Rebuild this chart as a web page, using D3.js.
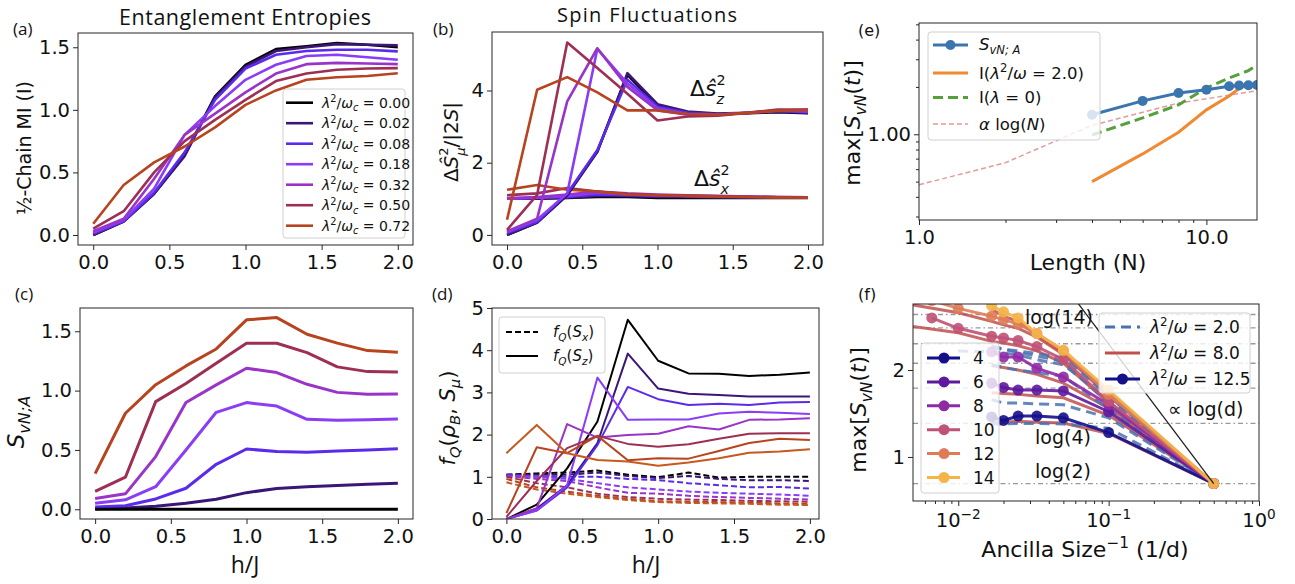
<!DOCTYPE html>
<html>
<head>
<meta charset="utf-8">
<script src="https://cdn.jsdelivr.net/npm/d3@7"></script>
<style>
body { margin: 0; background: #fff; }
svg { display: block; }
</style>
</head>
<body>
<svg id="fig"></svg>
<script>
// ---- data ----
var hJ = [0.0, 0.2, 0.4, 0.6, 0.8, 1.0, 1.2, 1.4, 1.6, 1.8, 2.0];
var lamLabels = ["0.00", "0.02", "0.08", "0.18", "0.32", "0.50", "0.72"];
var lamColors = ["#000000", "#3b1677", "#5b2bea", "#8a3cf6", "#9a34c9", "#9d2f55", "#b8431f", "#c9581f"];

// (a) half-chain mutual information
var miHalf = [
    [0.00, 0.107, 0.33, 0.64, 1.107, 1.36, 1.485, 1.507, 1.533, 1.52, 1.50],
    [0.00, 0.11, 0.33, 0.63, 1.10, 1.345, 1.47, 1.50, 1.525, 1.52, 1.515],
    [0.01, 0.11, 0.34, 0.66, 1.08, 1.33, 1.44, 1.47, 1.48, 1.48, 1.467],
    [0.02, 0.12, 0.37, 0.80, 1.03, 1.24, 1.36, 1.43, 1.44, 1.42, 1.40],
    [0.03, 0.13, 0.45, 0.80, 0.97, 1.14, 1.29, 1.365, 1.375, 1.37, 1.365],
    [0.05, 0.19, 0.50, 0.75, 0.92, 1.08, 1.23, 1.29, 1.32, 1.33, 1.333],
    [0.09, 0.40, 0.58, 0.707, 0.86, 1.04, 1.155, 1.24, 1.26, 1.27, 1.293]
];

// (b) spin fluctuations
var fluctZ = [
    [0.00, 0.34, 1.11, 2.31, 4.43, 3.58, 3.39, 3.35, 3.37, 3.40, 3.37],
    [0.00, 0.34, 1.10, 2.30, 4.48, 3.62, 3.42, 3.36, 3.38, 3.42, 3.38],
    [0.05, 0.36, 1.15, 2.35, 4.30, 3.55, 3.38, 3.34, 3.38, 3.44, 3.40],
    [0.08, 0.42, 1.15, 5.15, 4.20, 3.50, 3.35, 3.33, 3.38, 3.44, 3.42],
    [0.10, 0.45, 3.70, 5.17, 4.10, 3.45, 3.33, 3.32, 3.39, 3.45, 3.43],
    [0.14, 1.11, 5.33, 4.62, 3.91, 3.17, 3.28, 3.30, 3.38, 3.47, 3.47],
    [0.42, 4.02, 4.37, 3.95, 3.45, 3.45, 3.35, 3.33, 3.38, 3.44, 3.47]
];
var fluctX = [
    [1.00, 1.00, 1.02, 1.05, 1.05, 1.02, 1.02, 1.02, 1.02, 1.02, 1.02],
    [1.00, 1.01, 1.03, 1.08, 1.08, 1.05, 1.05, 1.04, 1.04, 1.03, 1.03],
    [1.00, 1.02, 1.05, 1.12, 1.10, 1.08, 1.07, 1.06, 1.05, 1.04, 1.03],
    [1.00, 1.03, 1.08, 1.17, 1.12, 1.10, 1.08, 1.07, 1.06, 1.05, 1.04],
    [1.02, 1.05, 1.12, 1.20, 1.15, 1.12, 1.10, 1.08, 1.06, 1.05, 1.04],
    [1.10, 1.15, 1.30, 1.20, 1.13, 1.10, 1.08, 1.07, 1.05, 1.04, 1.03],
    [1.25, 1.38, 1.25, 1.20, 1.12, 1.10, 1.08, 1.06, 1.05, 1.04, 1.03]
];

// (c) boson entanglement entropy
var sBoson = [
    [0, 0, 0, 0, 0, 0, 0, 0, 0, 0, 0],
    [0.005, 0.01, 0.025, 0.05, 0.085, 0.14, 0.175, 0.19, 0.20, 0.21, 0.22],
    [0.02, 0.03, 0.087, 0.177, 0.379, 0.508, 0.486, 0.48, 0.49, 0.50, 0.511],
    [0.05, 0.08, 0.19, 0.50, 0.817, 0.899, 0.87, 0.758, 0.75, 0.755, 0.76],
    [0.09, 0.13, 0.444, 0.90, 1.048, 1.188, 1.152, 1.053, 0.985, 0.97, 0.972],
    [0.15, 0.27, 0.907, 1.06, 1.23, 1.399, 1.399, 1.32, 1.20, 1.16, 1.157],
    [0.30, 0.809, 1.05, 1.208, 1.351, 1.596, 1.615, 1.475, 1.40, 1.337, 1.323]
];

// (d) quantum Fisher information
var fqZ = [
    [0.00, 0.34, 1.20, 2.31, 4.72, 3.75, 3.45, 3.44, 3.39, 3.42, 3.47],
    [0.00, 0.25, 0.80, 1.80, 3.92, 3.09, 2.97, 2.94, 2.90, 2.90, 2.90],
    [0.00, 0.20, 0.75, 1.75, 3.13, 2.84, 2.70, 2.73, 2.70, 2.76, 2.77],
    [0.00, 0.20, 0.80, 3.35, 2.35, 2.36, 2.36, 2.50, 2.54, 2.52, 2.49],
    [0.00, 0.25, 2.25, 1.93, 1.99, 2.02, 2.20, 2.12, 2.35, 2.36, 2.39],
    [0.05, 0.90, 1.68, 1.97, 1.78, 1.71, 1.77, 1.90, 2.02, 2.03, 2.03],
    [0.14, 1.70, 1.56, 1.97, 1.39, 1.44, 1.43, 1.61, 1.80, 1.90, 1.87],
    [1.56, 2.23, 1.56, 1.40, 1.36, 1.26, 1.34, 1.44, 1.57, 1.60, 1.65]
];
var fqX = [
    [1.05, 1.08, 1.10, 1.15, 1.05, 0.99, 1.10, 0.98, 1.00, 1.00, 1.00],
    [1.05, 1.05, 1.05, 1.10, 1.02, 0.97, 1.02, 0.95, 0.92, 0.92, 0.90],
    [1.05, 1.00, 1.00, 1.00, 0.95, 0.92, 0.85, 0.80, 0.75, 0.76, 0.72],
    [1.02, 1.00, 0.95, 0.85, 0.75, 0.70, 0.65, 0.62, 0.60, 0.58, 0.55],
    [1.02, 0.95, 0.90, 0.75, 0.62, 0.60, 0.55, 0.52, 0.50, 0.48, 0.46],
    [1.00, 0.85, 0.75, 0.60, 0.52, 0.48, 0.46, 0.45, 0.43, 0.42, 0.41],
    [0.95, 0.75, 0.65, 0.55, 0.48, 0.42, 0.41, 0.40, 0.39, 0.37, 0.36],
    [0.87, 0.70, 0.60, 0.52, 0.45, 0.40, 0.38, 0.37, 0.36, 0.34, 0.33]
];

// (e) scaling with chain length
var lenN = [4, 6, 8, 10, 12, 13, 14, 15];
var maxSvn = [1.33, 1.63, 1.83, 1.92, 2.02, 2.04, 2.05, 2.06];
var miLam2 = [0.50, 0.75, 1.03, 1.43, 1.75, 1.95, 2.08, 2.08];
var lenN0 = [4, 6, 8, 10, 12, 14, 15];
var miLam0 = [0.99, 1.27, 1.54, 1.97, 2.28, 2.54, 2.76];
var fitN = [1, 2, 4, 8, 10, 15];
var fitLog = [0.477, 0.66, 1.14, 1.58, 1.68, 1.89];

// (f) ancilla size scaling, one curve per chain length
var ancN = [4, 6, 8, 10, 12, 14];
var ancColors = ["#14108a", "#5d1a9e", "#8f2aa6", "#c05276", "#df7c58", "#f4b448"];
var dShort = [60, 50, 40, 30, 20, 10, 2];
var dLong = [150, 100, 60, 50, 40, 30, 20, 10, 2];
var dWide = [200, 100, 60, 50, 40, 30, 20, 10, 2];
var dMid = [100, 60, 50, 40, 30, 20, 10, 2];
var anc125 = [
    {d: dShort, v: [1.46, 1.42, 1.47, 1.47, 1.45, 1.28, 0.693]},
    {d: dShort, v: [1.85, 1.80, 1.77, 1.77, 1.76, 1.52, 0.693]},
    {d: dShort, v: [2.21, 2.15, 2.15, 2.02, 1.92, 1.60, 0.693]},
    {d: dLong, v: [2.60, 2.48, 2.39, 2.37, 2.34, 2.27, 2.12, 1.64, 0.693]},
    {d: dLong, v: [2.80, 2.71, 2.62, 2.58, 2.53, 2.42, 2.22, 1.72, 0.693]},
    {d: dShort, v: [2.74, 2.67, 2.60, 2.42, 2.23, 1.77, 0.693]}
];
var anc80 = [
    {d: dShort, v: [1.40, 1.40, 1.41, 1.40, 1.39, 1.27, 0.693]},
    {d: dShort, v: [1.74, 1.73, 1.72, 1.70, 1.68, 1.48, 0.693]},
    {d: dShort, v: [2.05, 2.03, 2.00, 1.95, 1.85, 1.56, 0.693]},
    {d: dWide, v: [2.50, 2.43, 2.33, 2.31, 2.28, 2.22, 2.08, 1.62, 0.693]},
    {d: dWide, v: [2.75, 2.66, 2.56, 2.52, 2.48, 2.38, 2.18, 1.70, 0.693]},
    {d: dShort, v: [2.70, 2.62, 2.56, 2.40, 2.20, 1.75, 0.693]}
];
var anc20 = [
    {d: dShort, v: [1.38, 1.38, 1.385, 1.385, 1.38, 1.33, 0.693]},
    {d: dShort, v: [1.66, 1.62, 1.62, 1.61, 1.60, 1.45, 0.693]},
    {d: dShort, v: [2.06, 2.03, 2.00, 1.97, 1.93, 1.55, 0.693]},
    {d: dShort, v: [2.28, 2.24, 2.20, 2.16, 2.10, 1.62, 0.693]},
    {d: dMid, v: [2.22, 2.21, 2.20, 2.17, 2.12, 2.06, 1.66, 0.693]},
    {d: dShort, v: [2.26, 2.24, 2.22, 2.19, 2.14, 1.70, 0.693]}
];
var logRefs = [0.693, 1.386, 1.792, 2.079, 2.303, 2.485, 2.639];
var logDLine = [[0.5, 0.693], [0.06, 2.81]];

// ---- helpers ----
var svg = d3.select("#fig").attr("width", 1295).attr("height", 584);
var MONO = "DejaVu Sans";
var CAL = "Open Sans";

function panel(id, b) {
    var g = svg.append("g").attr("transform", "translate(" + b.x0 + "," + b.y0 + ")");
    var w = b.x1 - b.x0, h = b.y1 - b.y0;
    g.append("clipPath").attr("id", id).append("rect").attr("width", w).attr("height", h);
    var plot = g.append("g").attr("clip-path", "url(#" + id + ")");
    return {g: g, plot: plot, w: w, h: h};
}

function frame(p) {
    p.g.append("rect").attr("width", p.w).attr("height", p.h)
       .attr("fill", "none").attr("stroke", "#262626").attr("stroke-width", 1);
}

function styleAxis(sel, fs) {
    sel.attr("font-family", null).attr("font-size", null);
    sel.select(".domain").remove();
    sel.selectAll("line").attr("stroke", "#262626");
    sel.selectAll("text").attr("fill", "#111")
       .style("font-family", MONO).style("font-size", fs + "px");
}

// text with italic / sub / sup pieces, like matplotlib mathtext
// "lsub"/"hsup" are the stacked variants (sup over sub)
function rich(parent, x, y, parts, fs, font, anchor) {
    var t = parent.append("text").attr("x", x).attr("y", y)
        .attr("font-size", fs).attr("font-family", font || MONO)
        .attr("text-anchor", anchor || "start").attr("fill", "#111");
    var cur = 0;
    parts.forEach(function(p) {
        var s = 0, size = fs;
        if (p.s === "sub") { s = 0.25 * fs; size = 0.7 * fs; }
        if (p.s === "sup") { s = -0.4 * fs; size = 0.7 * fs; }
        if (p.s === "hsup") { s = -0.5 * fs; size = 0.65 * fs; }
        if (p.s === "lsub") { s = 0.36 * fs; size = 0.65 * fs; }
        var ts = t.append("tspan").text(p.t).attr("dy", s - cur).attr("font-size", size);
        if (p.dx) ts.attr("dx", p.dx * fs);
        if (p.i) ts.attr("font-style", "italic");
        cur = s;
    });
    return t;
}

function plain(parent, x, y, txt, fs, font, anchor) {
    return parent.append("text").attr("x", x).attr("y", y).text(txt)
        .attr("font-size", fs).attr("font-family", font || MONO)
        .attr("text-anchor", anchor || "start").attr("fill", "#111");
}

function linAxes(p, x, y, xt, yt, xf, yf) {
    var ax = p.g.append("g").attr("transform", "translate(0," + p.h + ")")
        .call(d3.axisBottom(x).tickValues(xt).tickSize(5).tickPadding(5).tickFormat(d3.format(xf)));
    styleAxis(ax, 19.5);
    var ay = p.g.append("g")
        .call(d3.axisLeft(y).tickValues(yt).tickSize(5).tickPadding(3).tickFormat(d3.format(yf)));
    styleAxis(ay, 19.5);
}

function drawSeries(plot, x, y, rows, colors, width, dash) {
    var line = d3.line().x(function(d, i) { return x(hJ[i]); }).y(function(d) { return y(d); });
    rows.forEach(function(r, k) {
        plot.append("path").attr("d", line(r)).attr("fill", "none")
            .attr("stroke", colors[k]).attr("stroke-width", width)
            .attr("stroke-linejoin", "round")
            .attr("stroke-dasharray", dash || null);
    });
}

var lamParts = function(v) {
    return [{t: "λ", i: 1}, {t: "2", s: "sup"}, {t: "/"}, {t: "ω", i: 1}, {t: "c", s: "sub", i: 1}, {t: " = " + v}];
};

// ---- (a) ----
var pA = panel("clipA", {x0: 78, y0: 33, x1: 413, y1: 245});
var xA = d3.scaleLinear().domain([-0.1, 2.1]).range([0, pA.w]);
var yA = d3.scaleLinear().domain([-0.08, 1.614]).range([pA.h, 0]);
drawSeries(pA.plot, xA, yA, miHalf, lamColors, 2.6);
linAxes(pA, xA, yA, [0, 0.5, 1, 1.5, 2], [0, 0.5, 1, 1.5], ".1f", ".1f");
frame(pA);
var legA = pA.g.append("g").attr("transform", "translate(205,56)");
legA.append("rect").attr("width", 122).attr("height", 149).attr("rx", 3)
    .attr("fill", "#fff").attr("fill-opacity", 0.85).attr("stroke", "#d0d0d0");
lamLabels.forEach(function(l, k) {
    var yy = 13.7 + k * 20.5;
    legA.append("line").attr("x1", 3).attr("x2", 30).attr("y1", yy).attr("y2", yy)
        .attr("stroke", lamColors[k]).attr("stroke-width", 2.6);
    rich(legA, 39, yy + 5, lamParts(l), 14);
});
plain(svg, 245, 25, "Entanglement Entropies", 21.5, CAL, "middle").attr("textLength", 252);
plain(svg, 13, 35, "(a)", 17, CAL);
rich(svg.append("g").attr("transform", "translate(31,148) rotate(-90)"), 0, 0,
     [{t: "½-Chain MI (I)"}], 19, MONO, "middle");

// ---- (b) ----
var pB = panel("clipB", {x0: 492, y0: 32, x1: 823, y1: 245});
var xB = d3.scaleLinear().domain([-0.1, 2.1]).range([0, pB.w]);
var yB = d3.scaleLinear().domain([-0.28, 5.62]).range([pB.h, 0]);
drawSeries(pB.plot, xB, yB, fluctX, lamColors, 2.6);
drawSeries(pB.plot, xB, yB, fluctZ, lamColors, 2.6);
linAxes(pB, xB, yB, [0, 0.5, 1, 1.5, 2], [0, 2, 4], ".1f", "d");
frame(pB);
rich(svg, 690, 96, [{t: "Δ"}, {t: "ŝ", i: 1}, {t: "2", s: "hsup"}, {t: "z", s: "lsub", i: 1, dx: -0.42}], 22);
rich(svg, 694, 186, [{t: "Δ"}, {t: "ŝ", i: 1}, {t: "2", s: "hsup"}, {t: "x", s: "lsub", i: 1, dx: -0.42}], 22);
plain(svg, 647, 22, "Spin Fluctuations", 20, CAL, "middle").attr("textLength", 180);
plain(svg, 433, 35, "(b)", 17, CAL);
rich(svg.append("g").attr("transform", "translate(458,142) rotate(-90)"), 0, 0,
     [{t: "Δ"}, {t: "Ŝ", i: 1}, {t: "2", s: "hsup"}, {t: "μ", s: "lsub", i: 1, dx: -0.42}, {t: "/|2"}, {t: "S", i: 1}, {t: "|"}],
     20, MONO, "middle");

// ---- (c) ----
var pC = panel("clipC", {x0: 80, y0: 308, x1: 413, y1: 519});
var xC = d3.scaleLinear().domain([-0.1, 2.1]).range([0, pC.w]);
var yC = d3.scaleLinear().domain([-0.082, 1.696]).range([pC.h, 0]);
drawSeries(pC.plot, xC, yC, sBoson.slice(1), lamColors.slice(1), 3);
drawSeries(pC.plot, xC, yC, sBoson.slice(0, 1), lamColors.slice(0, 1), 3);
linAxes(pC, xC, yC, [0, 0.5, 1, 1.5, 2], [0, 0.5, 1, 1.5], ".1f", ".1f");
frame(pC);
plain(svg, 15, 300, "(c)", 17, CAL);
plain(svg, 245, 573, "h/J", 23, CAL, "middle");
rich(svg.append("g").attr("transform", "translate(24,422) rotate(-90)"), 0, 0,
     [{t: "S", i: 1}, {t: "vN;A", s: "sub", i: 1}], 23, MONO, "middle");

// ---- (d) ----
var pD = panel("clipD", {x0: 492, y0: 308, x1: 819, y1: 519});
var xD = d3.scaleLinear().domain([-0.095, 2.06]).range([0, pD.w]);
var yD = d3.scaleLinear().domain([0, 5]).range([pD.h, 0]);
drawSeries(pD.plot, xD, yD, fqX, lamColors, 2, "6,3");
drawSeries(pD.plot, xD, yD, fqZ, lamColors, 2);
linAxes(pD, xD, yD, [0, 0.5, 1, 1.5, 2], [0, 1, 2, 3, 4, 5], ".1f", "d");
frame(pD);
var legD = pD.g.append("g").attr("transform", "translate(7,9)");
legD.append("rect").attr("width", 106).attr("height", 56).attr("rx", 3)
    .attr("fill", "#fff").attr("fill-opacity", 0.85).attr("stroke", "#d0d0d0");
legD.append("line").attr("x1", 7).attr("x2", 39).attr("y1", 15).attr("y2", 15)
    .attr("stroke", "#000").attr("stroke-width", 2).attr("stroke-dasharray", "6,3");
legD.append("line").attr("x1", 7).attr("x2", 39).attr("y1", 39).attr("y2", 39)
    .attr("stroke", "#000").attr("stroke-width", 2);
rich(legD, 54, 20, [{t: "f", i: 1}, {t: "Q", s: "sub", i: 1}, {t: "("}, {t: "S", i: 1}, {t: "x", s: "sub", i: 1}, {t: ")"}], 15);
rich(legD, 54, 44, [{t: "f", i: 1}, {t: "Q", s: "sub", i: 1}, {t: "("}, {t: "S", i: 1}, {t: "z", s: "sub", i: 1}, {t: ")"}], 15);
plain(svg, 432, 300, "(d)", 17, CAL);
plain(svg, 646, 573, "h/J", 23, CAL, "middle");
rich(svg.append("g").attr("transform", "translate(455,418) rotate(-90)"), 0, 0,
     [{t: "f", i: 1}, {t: "Q", s: "sub", i: 1}, {t: "("}, {t: "ρ", i: 1}, {t: "B", s: "sub", i: 1},
      {t: ", "}, {t: "S", i: 1}, {t: "μ", s: "sub", i: 1}, {t: ")"}], 21, MONO, "middle");

// ---- (e) ----
var pE = panel("clipE", {x0: 919, y0: 23, x1: 1257, y1: 220});
var xE = d3.scaleLog().domain([1, 15]).range([0, pE.w]);
var yE = d3.scaleLog().domain([0.285, 5.1]).range([pE.h, 0]);
var lineE = function(xs, ys) {
    return d3.line().x(function(d, i) { return xE(xs[i]); }).y(function(d) { return yE(d); })(ys);
};
pE.plot.append("path").attr("d", lineE(fitN, fitLog)).attr("fill", "none")
    .attr("stroke", "#e29a9a").attr("stroke-width", 1.5).attr("stroke-dasharray", "5,3");
pE.plot.append("path").attr("d", lineE(lenN0, miLam0)).attr("fill", "none")
    .attr("stroke", "#55a03d").attr("stroke-width", 3).attr("stroke-dasharray", "10,5");
pE.plot.append("path").attr("d", lineE(lenN, miLam2)).attr("fill", "none")
    .attr("stroke", "#f08a32").attr("stroke-width", 3);
pE.plot.append("path").attr("d", lineE(lenN, maxSvn)).attr("fill", "none")
    .attr("stroke", "#3a75b0").attr("stroke-width", 3);
pE.plot.selectAll(".ptE").data(lenN).enter().append("circle")
    .attr("cx", function(d) { return xE(d); })
    .attr("cy", function(d, i) { return yE(maxSvn[i]); })
    .attr("r", 5).attr("fill", "#3a75b0");
// log axes
var axE = pE.g.append("g").attr("transform", "translate(0," + pE.h + ")")
    .call(d3.axisBottom(xE).tickValues([1, 10]).tickSize(5).tickPadding(5).tickFormat(d3.format(".1f")));
styleAxis(axE, 19.5);
var axEm = pE.g.append("g").attr("transform", "translate(0," + pE.h + ")")
    .call(d3.axisBottom(xE).tickValues([2, 3, 4, 5, 6, 7, 8, 9]).tickSize(3).tickFormat(""));
styleAxis(axEm, 10);
var ayE = pE.g.append("g")
    .call(d3.axisLeft(yE).tickValues([1]).tickSize(5).tickPadding(3).tickFormat(d3.format(".2f")));
styleAxis(ayE, 19.5);
var ayEm = pE.g.append("g")
    .call(d3.axisLeft(yE).tickValues([0.3, 0.4, 0.5, 0.6, 0.7, 0.8, 0.9, 2, 3, 4, 5]).tickSize(3).tickFormat(""));
styleAxis(ayEm, 10);
var legE = pE.g.append("g").attr("transform", "translate(9,9)");
legE.append("rect").attr("width", 172).attr("height", 108).attr("rx", 3)
    .attr("fill", "#fff").attr("fill-opacity", 0.8).attr("stroke", "#d0d0d0");
legE.append("line").attr("x1", 5).attr("x2", 40).attr("y1", 13).attr("y2", 13)
    .attr("stroke", "#3a75b0").attr("stroke-width", 3);
legE.append("circle").attr("cx", 22.5).attr("cy", 13).attr("r", 5).attr("fill", "#3a75b0");
legE.append("line").attr("x1", 5).attr("x2", 40).attr("y1", 41).attr("y2", 41)
    .attr("stroke", "#f08a32").attr("stroke-width", 3);
legE.append("line").attr("x1", 5).attr("x2", 40).attr("y1", 65.5).attr("y2", 65.5)
    .attr("stroke", "#55a03d").attr("stroke-width", 3).attr("stroke-dasharray", "10,5");
legE.append("line").attr("x1", 5).attr("x2", 40).attr("y1", 92).attr("y2", 92)
    .attr("stroke", "#e29a9a").attr("stroke-width", 1.5).attr("stroke-dasharray", "5,3");
rich(legE, 51, 18, [{t: "S", i: 1}, {t: "vN; A", s: "sub", i: 1}], 16.5);
rich(legE, 51, 47, [{t: "I("}, {t: "λ", i: 1}, {t: "2", s: "sup"}, {t: "/"}, {t: "ω", i: 1}, {t: " = 2.0)"}], 16.5);
rich(legE, 51, 71, [{t: "I("}, {t: "λ", i: 1}, {t: " = 0)"}], 16.5);
rich(legE, 51, 98, [{t: "α", i: 1}, {t: " log("}, {t: "N", i: 1}, {t: ")"}], 16.5);
frame(pE);
plain(svg, 858, 36, "(e)", 16, MONO);
plain(svg, 1088, 270, "Length (N)", 22, MONO, "middle");
rich(svg.append("g").attr("transform", "translate(860,123) rotate(-90)"), 0, 0,
     [{t: "max["}, {t: "S", i: 1}, {t: "vN", s: "sub", i: 1}, {t: "("}, {t: "t", i: 1}, {t: ")]"}], 22, MONO, "middle");

// ---- (f) ----
var pF = panel("clipF", {x0: 913, y0: 304, x1: 1259, y1: 501});
var xF = d3.scaleLog().domain([0.005, 1]).range([0, pF.w]);
var yF = d3.scaleLinear().domain([0.493, 2.76]).range([pF.h, 0]);
logRefs.forEach(function(v) {
    pF.plot.append("line").attr("x1", 0).attr("x2", pF.w).attr("y1", yF(v)).attr("y2", yF(v))
        .attr("stroke", "#999").attr("stroke-width", 1.4).attr("stroke-dasharray", "5,3,1.5,3");
});
var lineF = d3.line().x(function(d) { return xF(1 / d[0]); }).y(function(d) { return yF(d[1]); });
function pairs(s) { return s.d.map(function(dd, i) { return [dd, s.v[i]]; }); }
anc80.forEach(function(s) {
    pF.plot.append("path").attr("d", lineF(pairs(s))).attr("fill", "none")
        .attr("stroke", "#c0504d").attr("stroke-opacity", 0.85).attr("stroke-width", 3);
});
anc20.forEach(function(s) {
    pF.plot.append("path").attr("d", lineF(pairs(s))).attr("fill", "none")
        .attr("stroke", "#4a72b0").attr("stroke-opacity", 0.85).attr("stroke-width", 3)
        .attr("stroke-dasharray", "10,6");
});
anc125.forEach(function(s, k) {
    var pts = pairs(s);
    pF.plot.append("path").attr("d", lineF(pts)).attr("fill", "none")
        .attr("stroke", ancColors[k]).attr("stroke-opacity", 0.9).attr("stroke-width", 3);
    pF.plot.selectAll(null).data(pts).enter().append("circle")
        .attr("cx", function(d) { return xF(1 / d[0]); })
        .attr("cy", function(d) { return yF(d[1]); })
        .attr("r", 5.5).attr("fill", ancColors[k]).attr("fill-opacity", 0.9);
});
pF.plot.append("path").attr("d", d3.line().x(function(d) { return xF(d[0]); }).y(function(d) { return yF(d[1]); })(logDLine))
    .attr("fill", "none").attr("stroke", "#222").attr("stroke-width", 1.3);
// axes
var axF = pF.g.append("g").attr("transform", "translate(0," + pF.h + ")")
    .call(d3.axisBottom(xF).tickValues([0.01, 0.1, 1]).tickSize(5).tickFormat(""));
styleAxis(axF, 10);
var minorF = [0.006, 0.007, 0.008, 0.009, 0.02, 0.03, 0.04, 0.05, 0.06, 0.07, 0.08, 0.09,
              0.2, 0.3, 0.4, 0.5, 0.6, 0.7, 0.8, 0.9];
var axFm = pF.g.append("g").attr("transform", "translate(0," + pF.h + ")")
    .call(d3.axisBottom(xF).tickValues(minorF).tickSize(3).tickFormat(""));
styleAxis(axFm, 10);
[[0.01, "−2"], [0.1, "−1"], [1, "0"]].forEach(function(t) {
    rich(pF.g, xF(t[0]), pF.h + 26, [{t: "10"}, {t: t[1], s: "sup"}], 19.5, MONO, "middle");
});
var ayF = pF.g.append("g")
    .call(d3.axisLeft(yF).tickValues([1, 2]).tickSize(5).tickPadding(3).tickFormat(d3.format("d")));
styleAxis(ayF, 19.5);
// N legend
var legN = pF.g.append("g").attr("transform", "translate(8,39)");
legN.append("rect").attr("width", 78).attr("height", 150).attr("rx", 3)
    .attr("fill", "#fff").attr("fill-opacity", 0.8).attr("stroke", "#d0d0d0");
ancN.forEach(function(n, k) {
    var yy = 15 + k * 23.9;
    legN.append("line").attr("x1", 6).attr("x2", 39).attr("y1", yy).attr("y2", yy)
        .attr("stroke", ancColors[k]).attr("stroke-width", 3);
    legN.append("circle").attr("cx", 23).attr("cy", yy).attr("r", 5.5).attr("fill", ancColors[k]);
    plain(legN, 52, yy + 6, String(n), 17);
});
// lambda legend
var legL = pF.g.append("g").attr("transform", "translate(186,9)");
legL.append("rect").attr("width", 151).attr("height", 80).attr("rx", 3)
    .attr("fill", "#fff").attr("fill-opacity", 0.8).attr("stroke", "#d0d0d0");
legL.append("line").attr("x1", 6).attr("x2", 41).attr("y1", 14).attr("y2", 14)
    .attr("stroke", "#4a72b0").attr("stroke-width", 3).attr("stroke-dasharray", "10,6");
legL.append("line").attr("x1", 6).attr("x2", 41).attr("y1", 40).attr("y2", 40)
    .attr("stroke", "#c0504d").attr("stroke-width", 3);
legL.append("line").attr("x1", 6).attr("x2", 41).attr("y1", 66).attr("y2", 66)
    .attr("stroke", "#14108a").attr("stroke-width", 3);
legL.append("circle").attr("cx", 23.5).attr("cy", 66).attr("r", 5.5).attr("fill", "#14108a");
["2.0", "8.0", "12.5"].forEach(function(v, k) {
    rich(legL, 51, 20 + k * 26, [{t: "λ", i: 1}, {t: "2", s: "sup"}, {t: "/"}, {t: "ω", i: 1}, {t: " = " + v}], 17);
});
frame(pF);
plain(svg, 1025, 324, "log(14)", 19, MONO);
plain(svg, 1035, 444, "log(4)", 19, MONO);
plain(svg, 1035, 478, "log(2)", 19, MONO);
plain(svg, 1168, 416, "∝ log(d)", 19, MONO);
plain(svg, 858, 300, "(f)", 16, MONO);
rich(svg, 1085, 557, [{t: "Ancilla Size"}, {t: "−1", s: "sup"}, {t: " (1/d)"}], 22, MONO, "middle");
rich(svg.append("g").attr("transform", "translate(866,410) rotate(-90)"), 0, 0,
     [{t: "max["}, {t: "S", i: 1}, {t: "vN", s: "sub", i: 1}, {t: "("}, {t: "t", i: 1}, {t: ")]"}], 22, MONO, "middle");
</script>
</body>
</html>
